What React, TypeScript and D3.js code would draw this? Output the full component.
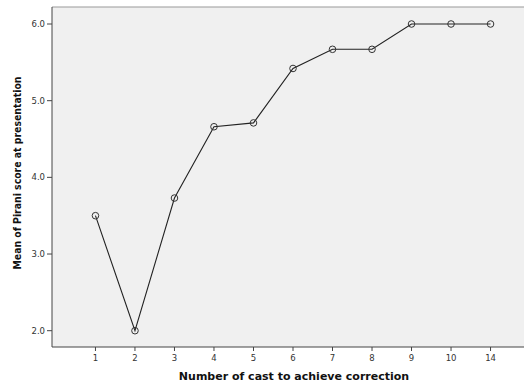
import React from "react";
import * as d3 from "d3";

// number of casts (categories on the x axis)
const casts = ["1", "2", "3", "4", "5", "6", "7", "8", "9", "10", "14"];
// mean Pirani score at presentation for each group
const meanPirani = [3.5, 2.0, 3.73, 4.66, 4.71, 5.42, 5.67, 5.67, 6.0, 6.0, 6.0];
const yTicks = [2.0, 3.0, 4.0, 5.0, 6.0];

const width = 524;
const height = 383;
const left = 52;
const top = 7;
const bottom = 347;

export default function App() {
  const x = d3
    .scalePoint<string>()
    .domain(casts)
    .range([left, 534])
    .padding(1.1);

  const y = d3.scaleLinear().domain([2, 6]).range([330.7, 24]);

  const line = d3
    .line<number>()
    .x((d, i) => x(casts[i]) as number)
    .y((d) => y(d));

  return (
    <svg
      width={width}
      height={height}
      style={{ position: "absolute", left: 0, top: 0 }}
    >
      <rect x={0} y={0} width={width} height={height} fill="#fff" />
      <rect x={left} y={top} width={width - left} height={bottom - top} fill="#f0f0f0" />
      <line x1={left} x2={width} y1={top} y2={top} stroke="#999" strokeWidth={1.2} />
      <line x1={left} x2={left} y1={top} y2={bottom} stroke="#444" strokeWidth={1} />
      <line x1={left} x2={width} y1={bottom} y2={bottom} stroke="#444" strokeWidth={1.2} />

      {yTicks.map((t) => (
        <g key={t} transform={`translate(0,${y(t)})`}>
          <line x1={left - 5} x2={left} stroke="#444" />
          <text
            x={left - 7}
            dy="0.35em"
            textAnchor="end"
            fontFamily="'DejaVu Sans', sans-serif"
            fontSize={8.5}
            fill="#333"
          >
            {d3.format(".1f")(t)}
          </text>
        </g>
      ))}

      {casts.map((c) => (
        <g key={c} transform={`translate(${x(c)},${bottom})`}>
          <line y1={0} y2={4} stroke="#444" />
          <text
            y={14}
            textAnchor="middle"
            fontFamily="'DejaVu Sans', sans-serif"
            fontSize={8.5}
            fill="#333"
          >
            {c}
          </text>
        </g>
      ))}

      <path d={line(meanPirani) || ""} fill="none" stroke="#222" strokeWidth={1.1} />
      {meanPirani.map((v, i) => (
        <circle
          key={i}
          cx={x(casts[i])}
          cy={y(v)}
          r={3.3}
          fill="none"
          stroke="#333"
          strokeWidth={1}
        />
      ))}

      <text
        x={294}
        y={380}
        textAnchor="middle"
        fontFamily="'DejaVu Sans', sans-serif"
        fontWeight="bold"
        fontSize={11}
        fill="#111"
      >
        Number of cast to achieve correction
      </text>
      <text
        transform="translate(21,173) rotate(-90)"
        textAnchor="middle"
        fontFamily="'DejaVu Sans', sans-serif"
        fontWeight="bold"
        fontSize={11}
        fill="#111"
        textLength={193}
        lengthAdjust="spacingAndGlyphs"
      >
        Mean of Pirani score at presentation
      </text>
    </svg>
  );
}
